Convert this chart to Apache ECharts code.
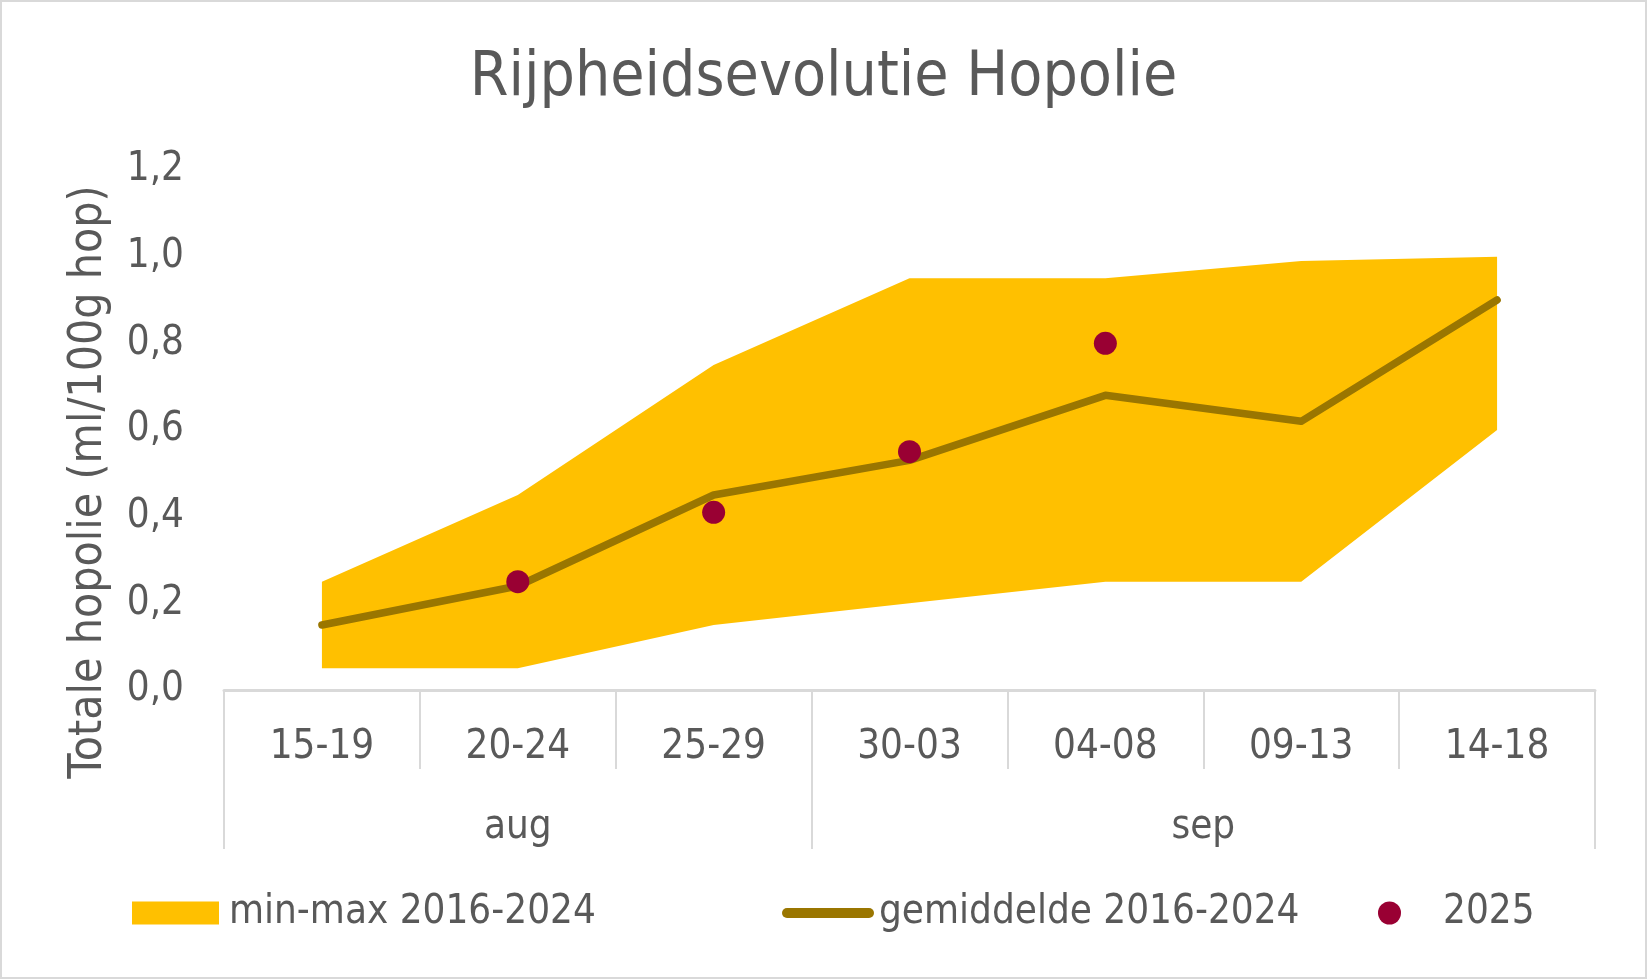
<!DOCTYPE html>
<html>
<head>
<meta charset="utf-8">
<title>Rijpheidsevolutie Hopolie</title>
<script src="https://cdn.jsdelivr.net/npm/echarts@6/dist/echarts.min.js"></script>
<style>
    html, body { margin: 0; padding: 0; background: #fff; }
    #container { width: 1647px; height: 979px; }
</style>
</head>
<body>
<div id="container"></div>
<script>
// data
var categories = ['15-19', '20-24', '25-29', '30-03', '04-08', '09-13', '14-18']
var months = ['aug', 'sep']
// first and last category index of every month
var monthSpans = [[0, 2], [3, 6]]
var minValues = [0.05, 0.05, 0.15, 0.20, 0.25, 0.25, 0.60]
var maxValues = [0.25, 0.45, 0.75, 0.95, 0.95, 0.99, 1.00]
var meanValues = [0.15, 0.24, 0.45, 0.53, 0.68, 0.62, 0.90]
var values2025 = [null, 0.25, 0.41, 0.55, 0.80, null, null]
var yTicks = [0, 0.2, 0.4, 0.6, 0.8, 1.0, 1.2]

var font = "'DejaVu Sans Condensed', 'Liberation Sans Narrow', 'DejaVu Sans', sans-serif"
var textColor = '#595959'
var lineGrey = '#D9D9D9'

const chartInit = function () {
    var dom = document.getElementById('container')
    var myChart = echarts.init(dom)

    // stacked band: invisible base + (max - min) on top
    var rangeValues = []
    for (let i = 0; i < maxValues.length; i++) {
        rangeValues.push(+(maxValues[i] - minValues[i]).toFixed(3))
    }

    // month boundaries and label positions on the second axis
    var monthTicks = [monthSpans[0][0] - 0.5]
    var monthCenters = []
    for (let i = 0; i < monthSpans.length; i++) {
        let s = monthSpans[i]
        monthTicks.push(s[1] + 0.5)
        monthCenters.push((s[0] + s[1]) / 2)
    }

    var option = {
        backgroundColor: '#fff',
        animation: false,
        textStyle: { fontFamily: font, color: textColor },
        title: {
            text: 'Rijpheidsevolutie Hopolie',
            left: 'center',
            top: 43,
            textStyle: { fontFamily: font, fontSize: 62, fontWeight: 'normal', color: textColor },
        },
        graphic: [
            {
                type: 'rect',
                shape: { x: 1, y: 1, width: 1645, height: 977 },
                style: { fill: 'none', stroke: lineGrey, lineWidth: 2 },
                silent: true,
            },
            {
                type: 'text',
                x: 89,
                y: 482,
                rotation: Math.PI / 2,
                style: {
                    text: 'Totale hopolie (ml/100g hop)',
                    fontFamily: font,
                    fontSize: 46,
                    fill: textColor,
                    align: 'center',
                    verticalAlign: 'middle',
                },
            },
        ],
        legend: [
            {
                left: 127, top: 888,
                itemWidth: 87, itemHeight: 23,
                textStyle: { fontFamily: font, fontSize: 40, color: textColor, padding: [0, 0, 0, 5] },
                data: [{ name: 'min-max 2016-2024', icon: 'rect', itemStyle: { color: '#FFC000' } }],
            },
            {
                left: 777, top: 888,
                itemWidth: 92, itemHeight: 10,
                textStyle: { fontFamily: font, fontSize: 40, color: textColor, padding: [0, 0, 0, 0] },
                data: [{
                    name: 'gemiddelde 2016-2024',
                    icon: 'path://M5,0 L87,0 A5,5 0 0 1 87,10 L5,10 A5,5 0 0 1 5,0 Z',
                    itemStyle: { color: '#9A7600' },
                }],
            },
            {
                left: 1373, top: 888,
                itemWidth: 87, itemHeight: 23,
                textStyle: { fontFamily: font, fontSize: 40, color: textColor, padding: [0, 0, 0, 5] },
                data: [{ name: '2025', icon: 'circle', itemStyle: { color: '#990033' } }],
            },
        ],
        grid: {
            left: 224,
            right: 52,
            top: 170,
            bottom: 289,
            containLabel: false,
        },
        xAxis: [
            {
                type: 'category',
                data: categories,
                boundaryGap: true,
                axisLine: { lineStyle: { color: lineGrey, width: 3 } },
                axisTick: { show: true, interval: 0, length: 79, lineStyle: { color: lineGrey, width: 2 } },
                axisLabel: { interval: 0, margin: 38, fontFamily: font, fontSize: 40, color: textColor },
                splitLine: { show: false },
            },
            {
                type: 'value',
                min: -0.5,
                max: categories.length - 0.5,
                position: 'bottom',
                offset: 79,
                axisLine: { show: false },
                axisTick: { show: true, customValues: monthTicks, length: 80, lineStyle: { color: lineGrey, width: 2 } },
                axisLabel: {
                    customValues: monthCenters,
                    margin: 39,
                    fontFamily: font,
                    fontSize: 40,
                    color: textColor,
                    formatter: function (v) {
                        let i = monthCenters.indexOf(v)
                        return i >= 0 ? months[i] : ''
                    },
                },
                splitLine: { show: false },
            },
        ],
        yAxis: {
            type: 'value',
            min: yTicks[0],
            max: yTicks[yTicks.length - 1],
            interval: 0.2,
            axisLine: { show: false },
            axisTick: { show: false },
            splitLine: { show: false },
            axisLabel: {
                margin: 40,
                fontFamily: font,
                fontSize: 40,
                color: textColor,
                formatter: function (v) {
                    return v.toFixed(1).replace('.', ',')
                },
            },
        },
        series: [
            {
                name: 'min',
                type: 'line',
                stack: 'band',
                data: minValues,
                symbol: 'none',
                lineStyle: { opacity: 0 },
                silent: true,
                z: 1,
            },
            {
                name: 'min-max 2016-2024',
                type: 'line',
                stack: 'band',
                data: rangeValues,
                symbol: 'none',
                lineStyle: { opacity: 0 },
                areaStyle: { color: '#FFC000', opacity: 1 },
                itemStyle: { color: '#FFC000' },
                z: 1,
            },
            {
                name: 'gemiddelde 2016-2024',
                type: 'line',
                data: meanValues,
                symbol: 'none',
                lineStyle: { color: '#9A7600', width: 7.5, cap: 'round', join: 'round' },
                itemStyle: { color: '#9A7600' },
                z: 2,
            },
            {
                name: '2025',
                type: 'scatter',
                data: values2025,
                symbol: 'circle',
                symbolSize: 23,
                itemStyle: { color: '#990033', opacity: 1 },
                z: 3,
            },
        ],
    }

    myChart.setOption(option, true)
}

chartInit()
</script>
</body>
</html>
